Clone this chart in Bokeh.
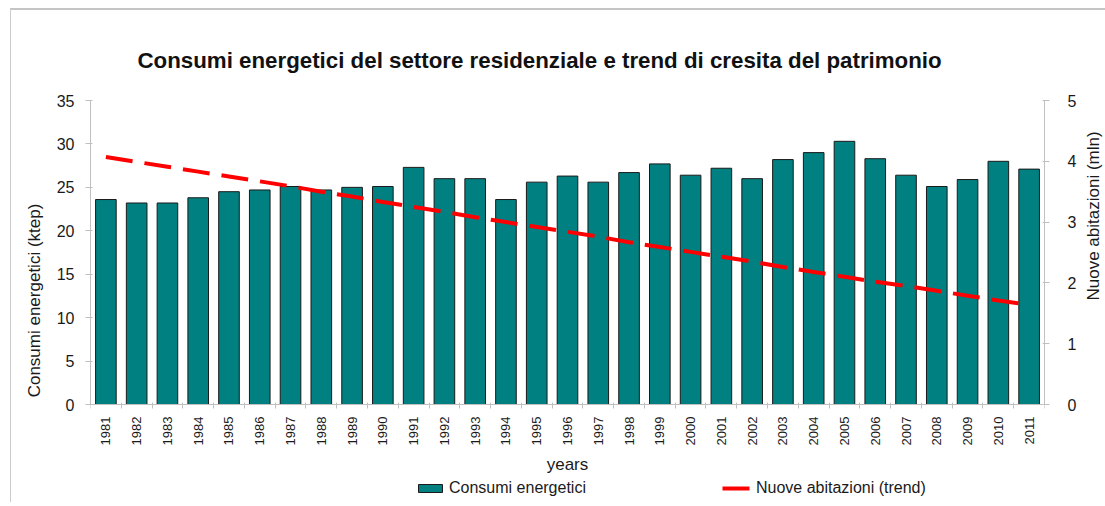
import math
from bokeh.plotting import figure
from bokeh.models import (Range1d, LinearAxis, FixedTicker, Legend, LegendItem, ColumnDataSource)
from bokeh.embed import file_html
from bokeh.resources import INLINE

years = list(range(1981, 2012))
year_labels = [str(y) for y in years]
consumi = [23.6, 23.2, 23.2, 23.8, 24.5, 24.7, 25.1, 24.7, 25.0, 25.1,
           27.3, 26.0, 26.0, 23.6, 25.6, 26.3, 25.6, 26.7, 27.7, 26.4,
           27.2, 26.0, 28.2, 29.0, 30.3, 28.3, 26.4, 25.1, 25.9, 28.0, 27.1]
trend = [4.07, 3.99, 3.91, 3.83, 3.75, 3.67, 3.59, 3.50, 3.42, 3.33,
         3.25, 3.17, 3.08, 3.00, 2.92, 2.84, 2.76, 2.67, 2.59, 2.51,
         2.43, 2.35, 2.26, 2.18, 2.10, 2.02, 1.95, 1.87, 1.79, 1.71, 1.64]
left_ticks = [0, 5, 10, 15, 20, 25, 30, 35]
right_ticks = [0, 1, 2, 3, 4, 5]
left_max = 35
right_max = 5

title_text = "Consumi energetici del settore residenziale e trend di cresita del patrimonio"
FONT = "Liberation Sans"
AX = "#c0c0c0"

# layout (pixels): plotting band height and the space kept below the zero line
BAND = 304
BELOW = 96
FRAME_H = BAND + BELOW

src = ColumnDataSource(dict(x=years, c=consumi, t=trend))

p = figure(frame_width=954, frame_height=FRAME_H, output_backend="svg", toolbar_location=None,
           x_range=Range1d(years[0] - 0.5, years[-1] + 0.5),
           y_range=Range1d(-left_max * BELOW / BAND, left_max),
           min_border_left=79, min_border_right=20, min_border_top=90, min_border_bottom=2,
           y_axis_location=None, x_axis_location=None)
p.extra_y_ranges = {"right": Range1d(-right_max * BELOW / BAND, right_max)}
p.outline_line_color = None
p.background_fill_color = "white"
p.border_fill_color = "white"
for g in p.grid:
    g.visible = False

p.title.text = title_text
p.title.text_font = FONT
p.title.text_font_size = "22.3px"
p.title.text_font_style = "bold"
p.title.text_color = "#111111"
p.title.align = "left"
p.title.offset = 47
p.title.standoff = 55

bars = p.vbar(x="x", top="c", width=0.67, source=src, fill_color="#008080", line_color="#1a1a1a", line_width=1)
ln = p.line(x="x", y="t", source=src, y_range_name="right", line_color="#ff0000", line_width=4, line_dash="27 12")

def style_axis(a):
    a.axis_line_color = AX
    a.major_tick_line_color = AX
    a.minor_tick_line_color = AX
    a.major_label_text_font = FONT
    a.axis_label_text_font = FONT
    a.axis_label_text_font_style = "normal"
    a.major_label_text_color = "#1a1a1a"
    a.axis_label_text_color = "#1a1a1a"

left = LinearAxis(ticker=FixedTicker(ticks=left_ticks, minor_ticks=[]), axis_label="Consumi energetici (ktep)",
                  bounds=(0, left_max))
style_axis(left)
left.major_tick_in = 2
left.major_tick_out = 5
left.major_label_standoff = 11
left.major_label_text_font_size = "16px"
left.axis_label_text_font_size = "17px"
left.axis_label_standoff = 10
p.add_layout(left, "left")

right = LinearAxis(y_range_name="right", ticker=FixedTicker(ticks=right_ticks, minor_ticks=[]),
                   axis_label="Nuove abitazioni (mln)", bounds=(0, right_max))
style_axis(right)
right.major_tick_in = 2
right.major_tick_out = 5
right.major_label_standoff = 18
right.major_label_text_font_size = "16px"
right.axis_label_text_font_size = "17px"
right.axis_label_standoff = 14
right.axis_label_orientation = math.pi / 2
p.add_layout(right, "right")

xa = LinearAxis(fixed_location=0,
                ticker=FixedTicker(ticks=years, minor_ticks=[y + 0.5 for y in [years[0] - 1] + years]))
xa.major_label_overrides = {y: s for y, s in zip(years, year_labels)}
style_axis(xa)
xa.major_tick_in = 0
xa.major_tick_out = 0
xa.minor_tick_in = 2
xa.minor_tick_out = 4
xa.major_label_orientation = math.pi / 2
xa.major_label_standoff = 8
xa.major_label_text_font_size = "13px"
xa.axis_label = "years"
xa.axis_label_text_font_size = "17px"
xa.axis_label_standoff = 7
p.add_layout(xa, "below")

legend = Legend(items=[LegendItem(label="Consumi energetici", renderers=[bars]),
                       LegendItem(label="Nuove abitazioni (trend)", renderers=[ln])],
                orientation="horizontal", location=(325, 3),
                border_line_color=None, background_fill_alpha=0,
                glyph_width=30, glyph_height=10, label_standoff=4, spacing=136,
                padding=0, margin=0, label_text_font=FONT, label_text_font_size="16px",
                label_text_color="#1a1a1a")
p.add_layout(legend, "center")

p.styles = {"border-top": "2px solid #c4c4c4", "border-left": "1px solid #cccccc",
            "margin-left": "10px", "margin-top": "8px"}

open("out.html", "w").write(file_html(p, INLINE))
